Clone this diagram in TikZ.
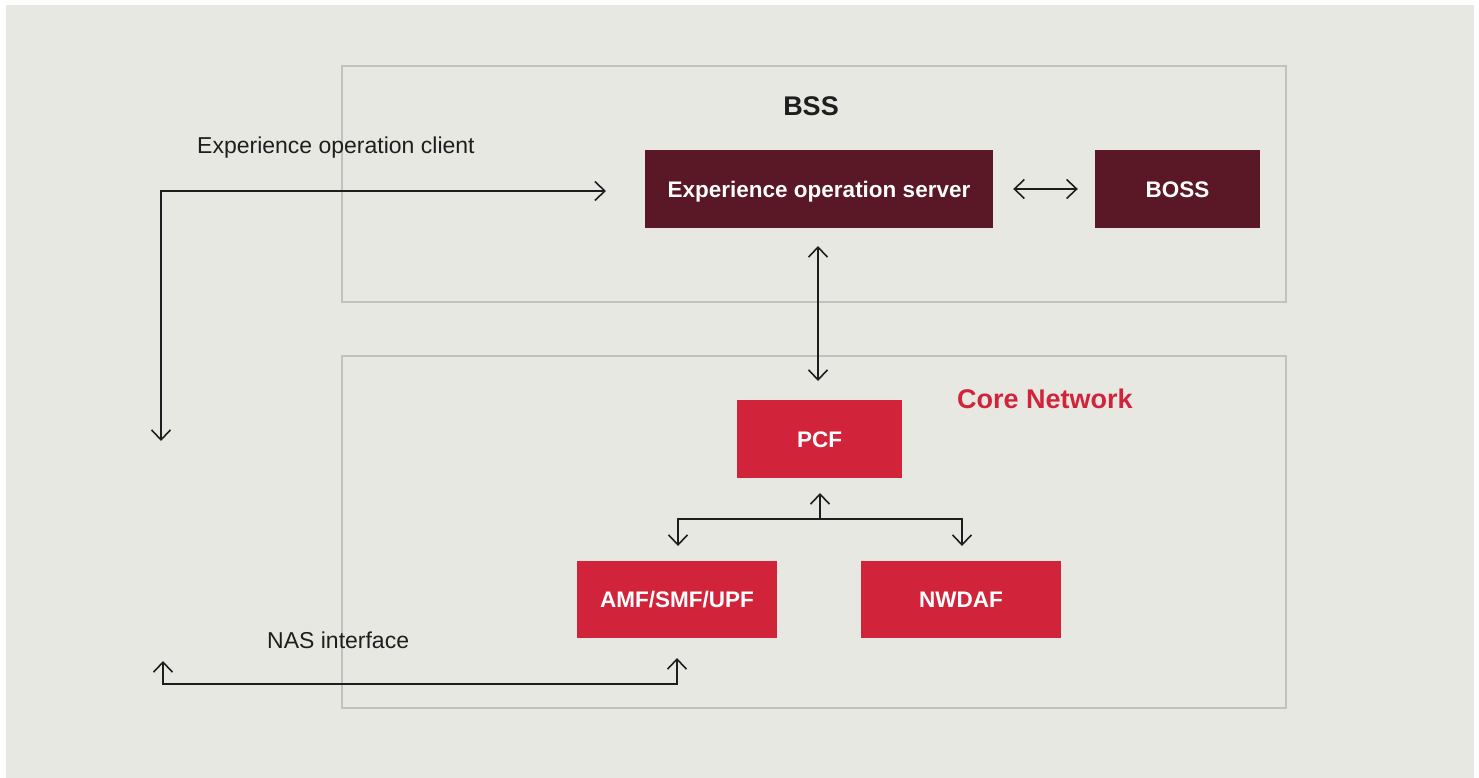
\documentclass[tikz,border=0pt]{standalone}
\usepackage{fontspec}
\setmainfont{Liberation Sans}
\usetikzlibrary{arrows.meta}
\definecolor{bgcol}{HTML}{E8E8E3}
\definecolor{framecol}{HTML}{BFC3C0}
\definecolor{wine}{HTML}{5A1725}
\definecolor{corered}{HTML}{D1233A}
\definecolor{ink}{HTML}{1E1E1E}
\tikzset{
  barb/.tip={Straight Barb[length=10pt,width=19pt,line width=1.6pt]},
  frame/.style={draw=framecol, line width=1.6pt},
  boxtext/.style={text=white, font=\bfseries\fontsize{22.5}{26}\selectfont, inner sep=0pt, text height=16.1pt, text depth=0pt},
  darkbox/.style={boxtext, fill=wine},
  redbox/.style={boxtext, fill=corered},
  lbl/.style={text=ink, font=\fontsize{23}{27}\selectfont, inner sep=0pt, text height=16.5pt, text depth=0pt},
  heading/.style={font=\bfseries\fontsize{27}{31}\selectfont, inner sep=0pt, text height=19.3pt, text depth=0pt},
  link/.style={draw=ink, line width=1.6pt, barb-barb},
  single/.style={draw=ink, line width=1.6pt, -barb}
}
\begin{document}
\begin{tikzpicture}[x=1pt,y=-1pt]
  \useasboundingbox (0,0) rectangle (1479,778);
  \fill[white] (0,0) rectangle (1479,778);
  \fill[bgcol] (6,5) rectangle (1474,778);

  % group frames
  \draw[frame] (342,66) rectangle (1286,302);
  \draw[frame] (342,356) rectangle (1286,708);

  \node[heading, text=ink] (bss) at (811,106) {BSS};
  \node[heading, text=corered] (core) at (1045,399) {Core Network};

  % functional blocks
  \node[darkbox, minimum width=348pt, minimum height=78pt] (eos) at (819,189) {Experience operation server};
  \node[darkbox, minimum width=165pt, minimum height=78pt] (boss) at (1177.5,189) {BOSS};
  \node[redbox, minimum width=165pt, minimum height=78pt] (pcf) at (819.5,439) {PCF};
  \node[redbox, minimum width=200pt, minimum height=77pt] (amf) at (677,599.5) {AMF/SMF/UPF};
  \node[redbox, minimum width=200pt, minimum height=77pt] (nwdaf) at (961,599.5) {NWDAF};

  % text labels
  \node[lbl, anchor=west] (clientlbl) at (197,145) {Experience operation client};
  \node[lbl, anchor=west] (naslbl) at (267,640) {NAS interface};

  % connector end points
  \coordinate (clientend) at (161,441);
  \coordinate (clientcorner) at (161,191);
  \coordinate (eosin) at (606,191);
  \coordinate (nasend) at (163,661);
  \coordinate (nascorner) at (163,684);
  \coordinate (amfin) at (677,658);
  \coordinate (eosout) at (818,246);
  \coordinate (pcfin) at (818,381);
  \coordinate (pcfout) at (820,493);
  \coordinate (tree) at (820,519);
  \coordinate (treeL) at (678,519);
  \coordinate (treeR) at (962,519);
  \coordinate (amftop) at (678,546);
  \coordinate (nwdaftop) at (962,546);

  % connectors
  \draw[link] ([xshift=20pt]eos.east) -- ([xshift=-17pt]boss.west);
  \draw[link] (eosout) -- (pcfin);
  \draw[link] (clientend) -- (clientcorner) -- (eosin);
  \draw[link] (nasend) -- (nascorner) -- (nascorner -| amfin) -- (amfin);
  \draw[single] (tree) -- (pcfout);
  \draw[link] (amftop) -- (treeL) -- (treeR) -- (nwdaftop);
\end{tikzpicture}
\end{document}
